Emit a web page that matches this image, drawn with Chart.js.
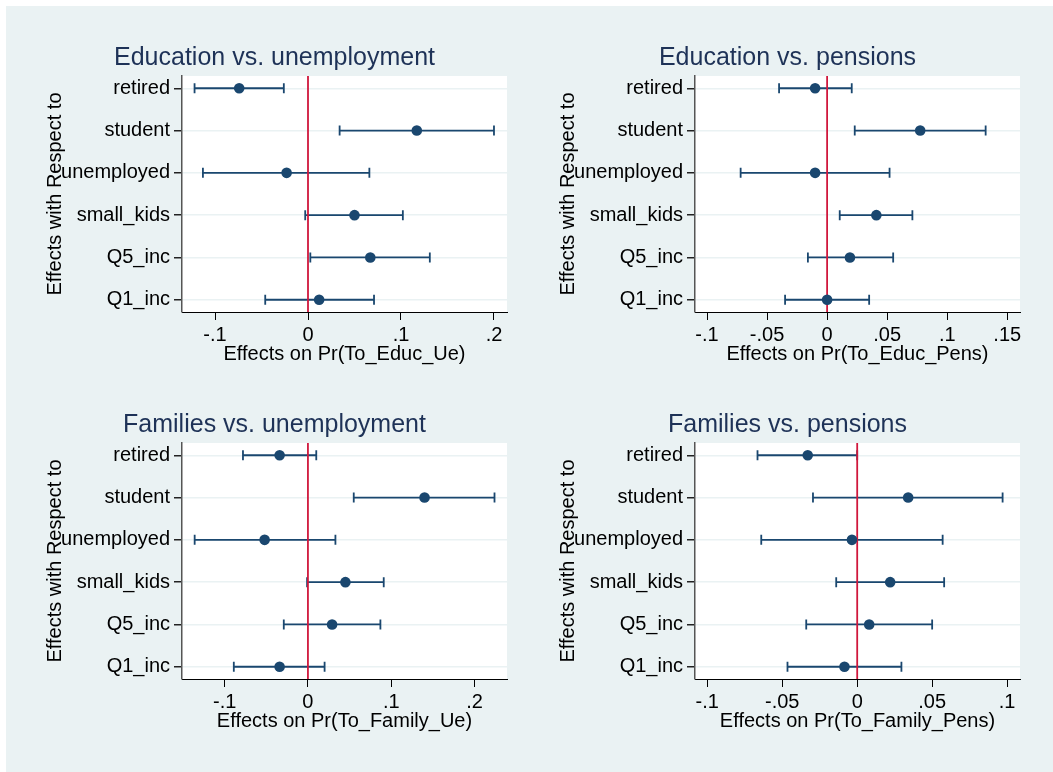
<!DOCTYPE html>
<html lang="en">
  <head>
    <meta charset="utf-8" />
    <title>Marginal effects</title>
    <style>
      * {
        margin: 0;
        padding: 0;
      }
      body {
        width: 1053px;
        height: 772px;
        background: white;
        position: relative;
        overflow: hidden;
      }
      .graphBg {
        position: absolute;
        left: 6px;
        top: 6px;
        width: 1047px;
        height: 766px;
        background: #eaf2f3;
      }
      canvas {
        position: absolute;
      }
    </style>
  </head>
  <body>
    <div class="graphBg"></div>
    <canvas id="educUe" width="505" height="366" style="left:22px;top:6px"></canvas>
    <canvas id="educPens" width="505" height="366" style="left:535px;top:6px"></canvas>
    <canvas id="familyUe" width="505" height="366" style="left:22px;top:373px"></canvas>
    <canvas id="familyPens" width="505" height="366" style="left:535px;top:373px"></canvas>

    <script src="https://cdn.jsdelivr.net/npm/chart.js"></script>

    <script>
      const categories = ["retired", "student", "unemployed", "small_kids", "Q5_inc", "Q1_inc"];

      // Education vs. unemployment
      const educUeEst = [-0.074, 0.117, -0.023, 0.05, 0.067, 0.012];
      const educUeLo = [-0.122, 0.034, -0.113, -0.003, 0.0025, -0.046];
      const educUeHi = [-0.026, 0.2, 0.066, 0.102, 0.131, 0.071];
      const educUeTicks = [-0.1, 0, 0.1, 0.2];

      // Education vs. pensions
      const educPensEst = [-0.01, 0.0775, -0.01, 0.041, 0.019, 0.0];
      const educPensLo = [-0.04, 0.023, -0.072, 0.0105, -0.016, -0.035];
      const educPensHi = [0.0205, 0.132, 0.052, 0.071, 0.055, 0.035];
      const educPensTicks = [-0.1, -0.05, 0, 0.05, 0.1, 0.15];

      // Families vs. unemployment
      const familyUeEst = [-0.034, 0.14, -0.052, 0.045, 0.029, -0.034];
      const familyUeLo = [-0.078, 0.055, -0.136, -0.001, -0.029, -0.089];
      const familyUeHi = [0.01, 0.224, 0.033, 0.091, 0.087, 0.02];
      const familyUeTicks = [-0.1, 0, 0.1, 0.2];

      // Families vs. pensions
      const familyPensEst = [-0.033, 0.034, -0.0035, 0.022, 0.008, -0.0085];
      const familyPensLo = [-0.0665, -0.0295, -0.064, -0.014, -0.034, -0.0465];
      const familyPensHi = [0.0, 0.097, 0.057, 0.058, 0.05, 0.0295];
      const familyPensTicks = [-0.1, -0.05, 0, 0.05, 0.1];

      const NAVY = "#1a476f";

      Chart.defaults.font.family = "'Liberation Sans', Arial, Helvetica, sans-serif";
      Chart.defaults.color = "#000";

      // stata style: white plot region, CI whiskers and a red line at zero
      const ciPlugin = {
        id: "ciPlugin",
        beforeDraw(chart) {
          const { ctx, chartArea: a } = chart;
          ctx.save();
          ctx.fillStyle = "#fff";
          ctx.fillRect(a.left, a.top, a.right - a.left, a.bottom - a.top);
          ctx.restore();
        },
        beforeDatasetsDraw(chart, args, opts) {
          const {
            ctx,
            chartArea: a,
            scales: { x, y },
          } = chart;
          ctx.save();
          ctx.strokeStyle = NAVY;
          ctx.lineWidth = 1.8;
          for (let i = 0; i < opts.lo.length; i++) {
            const py = y.getPixelForValue(i);
            const x1 = x.getPixelForValue(opts.lo[i]);
            const x2 = x.getPixelForValue(opts.hi[i]);
            ctx.beginPath();
            ctx.moveTo(x1, py);
            ctx.lineTo(x2, py);
            ctx.moveTo(x1, py - 5);
            ctx.lineTo(x1, py + 5);
            ctx.moveTo(x2, py - 5);
            ctx.lineTo(x2, py + 5);
            ctx.stroke();
          }
          const zx = x.getPixelForValue(0);
          ctx.strokeStyle = "#d0173c";
          ctx.lineWidth = 1.8;
          ctx.beginPath();
          ctx.moveTo(zx, a.top);
          ctx.lineTo(zx, a.bottom);
          ctx.stroke();
          ctx.restore();
        },
      };

      function fmt(v) {
        if (v === 0) return "0";
        return String(v).replace("0.", ".");
      }

      function makePanel(id, title, xTitle, est, lo, hi, ticks, xmin, xmax) {
        return new Chart(document.getElementById(id), {
          type: "scatter",
          data: {
            datasets: [
              {
                data: est.map((v, i) => ({ x: v, y: i })),
                backgroundColor: NAVY,
                borderWidth: 0,
                pointRadius: 5.3,
              },
            ],
          },
          options: {
            responsive: false,
            animation: false,
            layout: { padding: { left: 20, right: 20, top: 0, bottom: 5.5 } },
            plugins: {
              legend: { display: false },
              tooltip: { enabled: false },
              title: {
                display: true,
                text: title,
                color: "#1e3257",
                font: { size: 25, weight: "normal" },
                padding: { top: 37, bottom: 3 },
              },
              ciPlugin: { lo: lo, hi: hi },
            },
            scales: {
              x: {
                type: "linear",
                min: xmin,
                max: xmax,
                afterBuildTicks: (s) => {
                  s.ticks = ticks.map((v) => ({ value: v }));
                },
                afterFit: (s) => {
                  s.height = 54.5;
                },
                ticks: {
                  callback: (v) => fmt(v),
                  font: { size: 20 },
                  padding: 3,
                  maxRotation: 0,
                  autoSkip: false,
                },
                grid: {
                  drawOnChartArea: false,
                  tickLength: 8,
                  tickColor: "#000",
                },
                border: { color: "#000", width: 1 },
                title: {
                  display: true,
                  text: xTitle,
                  font: { size: 20 },
                  padding: { top: 0, bottom: 0 },
                },
              },
              y: {
                type: "linear",
                reverse: true,
                min: -0.29,
                max: categories.length - 1 + 0.29,
                afterBuildTicks: (s) => {
                  s.ticks = categories.map((c, i) => ({ value: i }));
                },
                afterFit: (s) => {
                  s.width = 140;
                },
                ticks: {
                  callback: (v) => categories[v],
                  font: { size: 20 },
                  padding: 4,
                  autoSkip: false,
                },
                grid: {
                  color: "#eaf2f3",
                  lineWidth: 1.5,
                  tickLength: 8,
                  tickColor: "#222",
                },
                border: { color: "#555", width: 1.5 },
                title: {
                  display: true,
                  text: "Effects with Respect to",
                  font: { size: 20 },
                  padding: { top: 1, bottom: 0 },
                },
              },
            },
          },
          plugins: [ciPlugin],
        });
      }

      makePanel("educUe", "Education vs. unemployment", "Effects on Pr(To_Educ_Ue)",
        educUeEst, educUeLo, educUeHi, educUeTicks, -0.1355, 0.214);
      makePanel("educPens", "Education vs. pensions", "Effects on Pr(To_Educ_Pens)",
        educPensEst, educPensLo, educPensHi, educPensTicks, -0.11, 0.1606);
      makePanel("familyUe", "Families vs. unemployment", "Effects on Pr(To_Family_Ue)",
        familyUeEst, familyUeLo, familyUeHi, familyUeTicks, -0.1512, 0.239);
      makePanel("familyPens", "Families vs. pensions", "Effects on Pr(To_Family_Pens)",
        familyPensEst, familyPensLo, familyPensHi, familyPensTicks, -0.1082, 0.1086);
    </script>
  </body>
</html>
